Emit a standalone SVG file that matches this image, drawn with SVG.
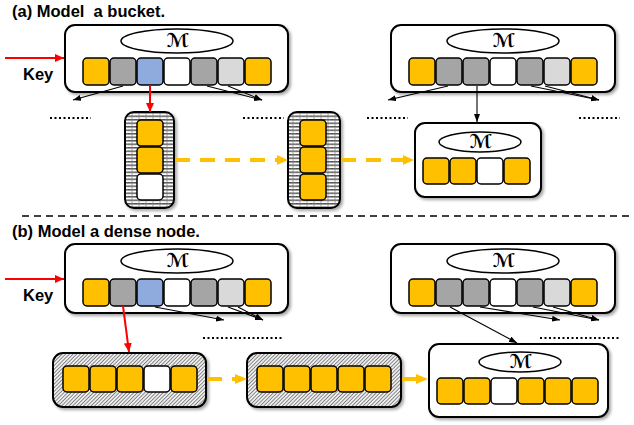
<svg xmlns="http://www.w3.org/2000/svg" width="634" height="425" viewBox="0 0 634 425">
<defs>
<style>
.t{font-family:"Liberation Sans",Arial,sans-serif;font-weight:bold;font-size:16.5px;fill:#000}
.m{font-family:"DejaVu Sans","Noto Sans",sans-serif;font-weight:bold;font-size:19px;fill:#000}
.n{fill:#fff;stroke:#000;stroke-width:2}
.c{stroke:#000;stroke-width:1.5}
.o{fill:#FFC000}.g{fill:#A5A5A5}.b{fill:#8FAADC}.w{fill:#fff}.l{fill:#D9D9D9}
.e{fill:#fff;stroke:#000;stroke-width:1.5}
.k{stroke:#000;stroke-width:1.1;fill:none}
.r{stroke:#FF0000;stroke-width:2;fill:none}
.y{stroke:#FFC000;stroke-width:4;fill:none}
.d{stroke:#000;stroke-width:2;stroke-dasharray:2 2.5;fill:none}
</style>
<filter id="sh" x="-10%" y="-10%" width="130%" height="130%">
<feDropShadow dx="2" dy="2" stdDeviation="1.5" flood-color="#000" flood-opacity="0.35"/>
</filter>
<pattern id="hz" width="7" height="3.5" patternUnits="userSpaceOnUse">
<rect width="7" height="3.5" fill="#fff"/>
<line x1="0" y1="0.8" x2="7" y2="0.8" stroke="#222" stroke-width="1.1"/>
<line x1="3" y1="0" x2="3" y2="0.8" stroke="#222" stroke-width="0.8"/>
<line x1="6" y1="1.5" x2="6" y2="3.5" stroke="#777" stroke-width="0.6"/>
</pattern>
<pattern id="dg" width="2.6" height="3" patternUnits="userSpaceOnUse" patternTransform="rotate(45)">
<rect width="2.6" height="3" fill="#eeeeee"/>
<line x1="0" y1="0" x2="0" y2="3" stroke="#3a3a3a" stroke-width="1.1"/>
</pattern>
<marker id="ak" markerWidth="8" markerHeight="6" refX="8" refY="3" orient="auto" markerUnits="userSpaceOnUse">
<path d="M0,0 L8,3 L0,6 z" fill="#000"/>
</marker>
<marker id="ar" markerWidth="9" markerHeight="8" refX="9" refY="4" orient="auto" markerUnits="userSpaceOnUse">
<path d="M0,0 L9,4 L0,8 z" fill="#FF0000"/>
</marker>
</defs>

<text class="t" x="12" y="17" xml:space="preserve">(a) Model  a bucket.</text>
<text class="t" x="12" y="237">(b) Model a dense node.</text>
<text class="t" x="23" y="80">Key</text>
<text class="t" x="23" y="301">Key</text>
<line x1="22" y1="216" x2="632" y2="216" stroke="#000" stroke-width="1.5" stroke-dasharray="7 5"/>

<g id="a-root">
<rect class="n" x="65" y="25" width="223" height="67" rx="10" filter="url(#sh)"/>
<ellipse class="e" cx="177" cy="41" rx="56" ry="12"/>
<text class="m" x="178" y="47" text-anchor="middle">ℳ</text>
<rect class="c o" x="83" y="58" width="26" height="27" rx="4"/>
<rect class="c g" x="110" y="58" width="26" height="27" rx="4"/>
<rect class="c b" x="137" y="58" width="26" height="27" rx="4"/>
<rect class="c w" x="164" y="58" width="26" height="27" rx="4"/>
<rect class="c g" x="191" y="58" width="26" height="27" rx="4"/>
<rect class="c l" x="218" y="58" width="26" height="27" rx="4"/>
<rect class="c o" x="245" y="58" width="26" height="27" rx="4"/>
</g>

<g id="a-right">
<rect class="n" x="391" y="25" width="224" height="67" rx="10" filter="url(#sh)"/>
<ellipse class="e" cx="503" cy="41" rx="56" ry="12"/>
<text class="m" x="504" y="47" text-anchor="middle">ℳ</text>
<rect class="c o" x="409" y="58" width="26" height="27" rx="4"/>
<rect class="c g" x="436" y="58" width="26" height="27" rx="4"/>
<rect class="c g" x="463" y="58" width="26" height="27" rx="4"/>
<rect class="c w" x="490" y="58" width="26" height="27" rx="4"/>
<rect class="c g" x="517" y="58" width="26" height="27" rx="4"/>
<rect class="c l" x="544" y="58" width="26" height="27" rx="4"/>
<rect class="c o" x="571" y="58" width="26" height="27" rx="4"/>
</g>

<g id="a-small">
<rect class="n" x="415" y="123" width="126" height="74" rx="10" filter="url(#sh)"/>
<ellipse class="e" cx="480" cy="142" rx="41" ry="10"/>
<text class="m" x="481" y="148" text-anchor="middle">ℳ</text>
<rect class="c o" x="423" y="158" width="26" height="26" rx="4"/>
<rect class="c o" x="450" y="158" width="26" height="26" rx="4"/>
<rect class="c w" x="477" y="158" width="26" height="26" rx="4"/>
<rect class="c o" x="504" y="158" width="26" height="26" rx="4"/>
</g>

<g id="a-bucket1">
<rect x="125" y="112" width="49" height="96" rx="9" fill="url(#hz)" stroke="#000" stroke-width="2" filter="url(#sh)"/>
<rect class="c o" x="137" y="120" width="26" height="26" rx="4"/>
<rect class="c o" x="137" y="147" width="26" height="26" rx="4"/>
<rect class="c w" x="137" y="174" width="26" height="26" rx="4"/>
</g>

<g id="a-bucket2">
<rect x="288" y="112" width="52" height="96" rx="9" fill="url(#hz)" stroke="#000" stroke-width="2" filter="url(#sh)"/>
<rect class="c o" x="300" y="120" width="26" height="26" rx="4"/>
<rect class="c o" x="300" y="147" width="26" height="26" rx="4"/>
<rect class="c o" x="300" y="174" width="26" height="26" rx="4"/>
</g>

<g id="b-root">
<rect class="n" x="65" y="244" width="223" height="69" rx="10" filter="url(#sh)"/>
<ellipse class="e" cx="177" cy="261" rx="56" ry="12"/>
<text class="m" x="178" y="267" text-anchor="middle">ℳ</text>
<rect class="c o" x="83" y="279" width="26" height="27" rx="4"/>
<rect class="c g" x="110" y="279" width="26" height="27" rx="4"/>
<rect class="c b" x="137" y="279" width="26" height="27" rx="4"/>
<rect class="c w" x="164" y="279" width="26" height="27" rx="4"/>
<rect class="c g" x="191" y="279" width="26" height="27" rx="4"/>
<rect class="c l" x="218" y="279" width="26" height="27" rx="4"/>
<rect class="c o" x="245" y="279" width="26" height="27" rx="4"/>
</g>

<g id="b-right">
<rect class="n" x="391" y="244" width="224" height="69" rx="10" filter="url(#sh)"/>
<ellipse class="e" cx="503" cy="261" rx="56" ry="12"/>
<text class="m" x="504" y="267" text-anchor="middle">ℳ</text>
<rect class="c o" x="409" y="279" width="26" height="27" rx="4"/>
<rect class="c g" x="436" y="279" width="26" height="27" rx="4"/>
<rect class="c g" x="463" y="279" width="26" height="27" rx="4"/>
<rect class="c w" x="490" y="279" width="26" height="27" rx="4"/>
<rect class="c g" x="517" y="279" width="26" height="27" rx="4"/>
<rect class="c l" x="544" y="279" width="26" height="27" rx="4"/>
<rect class="c o" x="571" y="279" width="26" height="27" rx="4"/>
</g>

<g id="b-dense1">
<rect x="53" y="353" width="153" height="54" rx="10" fill="url(#dg)" stroke="#000" stroke-width="2" filter="url(#sh)"/>
<rect class="c o" x="63" y="366" width="26" height="26" rx="4"/>
<rect class="c o" x="90" y="366" width="26" height="26" rx="4"/>
<rect class="c o" x="117" y="366" width="26" height="26" rx="4"/>
<rect class="c w" x="144" y="366" width="26" height="26" rx="4"/>
<rect class="c o" x="171" y="366" width="26" height="26" rx="4"/>
</g>

<g id="b-dense2">
<rect x="247" y="353" width="154" height="54" rx="10" fill="url(#dg)" stroke="#000" stroke-width="2" filter="url(#sh)"/>
<rect class="c o" x="257" y="366" width="26" height="26" rx="4"/>
<rect class="c o" x="284" y="366" width="26" height="26" rx="4"/>
<rect class="c o" x="311" y="366" width="26" height="26" rx="4"/>
<rect class="c o" x="338" y="366" width="26" height="26" rx="4"/>
<rect class="c o" x="365" y="366" width="26" height="26" rx="4"/>
</g>

<g id="b-small">
<rect class="n" x="429" y="344" width="179" height="73" rx="10" filter="url(#sh)"/>
<ellipse class="e" cx="520" cy="362" rx="41" ry="10"/>
<text class="m" x="521" y="368" text-anchor="middle">ℳ</text>
<rect class="c o" x="437" y="378" width="26" height="26" rx="4"/>
<rect class="c o" x="464" y="378" width="26" height="26" rx="4"/>
<rect class="c w" x="491" y="378" width="26" height="26" rx="4"/>
<rect class="c o" x="518" y="378" width="26" height="26" rx="4"/>
<rect class="c o" x="545" y="378" width="26" height="26" rx="4"/>
<rect class="c o" x="572" y="378" width="26" height="26" rx="4"/>
</g>

<g id="connectors">
<line class="r" x1="5" y1="58" x2="64" y2="58" marker-end="url(#ar)"/>
<line class="r" x1="150" y1="85" x2="150" y2="112" marker-end="url(#ar)"/>
<line class="k" x1="123" y1="86" x2="73" y2="100" marker-end="url(#ak)"/>
<line class="k" x1="207" y1="86" x2="262" y2="100" marker-end="url(#ak)"/>
<line class="k" x1="228" y1="86" x2="262" y2="100" marker-end="url(#ak)"/>
<line class="k" x1="448" y1="86" x2="388" y2="100" marker-end="url(#ak)"/>
<line class="k" x1="477" y1="86" x2="477" y2="122" marker-end="url(#ak)"/>
<line class="k" x1="531" y1="86" x2="599" y2="100" marker-end="url(#ak)"/>
<line class="k" x1="545" y1="86" x2="599" y2="100" marker-end="url(#ak)"/>
<line class="d" x1="50" y1="118" x2="91" y2="118"/>
<line class="d" x1="243" y1="118" x2="284" y2="118"/>
<line class="d" x1="367" y1="118" x2="408" y2="118"/>
<line class="d" x1="579" y1="118" x2="620" y2="118"/>
<line class="y" x1="175" y1="160" x2="277" y2="160" stroke-dasharray="15 10"/>
<path d="M277,155 L288,160 L277,165 z" fill="#FFC000"/>
<line class="y" x1="341" y1="160" x2="403" y2="160" stroke-dasharray="15 10"/>
<path d="M403,155 L414,160 L403,165 z" fill="#FFC000"/>

<line class="r" x1="5" y1="279" x2="64" y2="279" marker-end="url(#ar)"/>
<line class="r" x1="123" y1="306" x2="129" y2="352" marker-end="url(#ar)"/>
<line class="k" x1="155" y1="307" x2="224" y2="320" marker-end="url(#ak)"/>
<line class="k" x1="228" y1="307" x2="263" y2="320" marker-end="url(#ak)"/>
<line class="k" x1="238" y1="307" x2="263" y2="320" marker-end="url(#ak)"/>
<line class="k" x1="450" y1="307" x2="517" y2="343" marker-end="url(#ak)"/>
<line class="k" x1="480" y1="307" x2="560" y2="320" marker-end="url(#ak)"/>
<line class="k" x1="533" y1="307" x2="599" y2="320" marker-end="url(#ak)"/>
<line class="k" x1="553" y1="307" x2="599" y2="320" marker-end="url(#ak)"/>
<line class="d" x1="203" y1="338" x2="284" y2="338"/>
<line class="d" x1="540" y1="338" x2="620" y2="338"/>
<line class="y" x1="207" y1="379" x2="222" y2="379"/>
<line class="y" x1="232" y1="379" x2="236" y2="379"/>
<path d="M235,374 L247,379 L235,384 z" fill="#FFC000"/>
<line class="y" x1="402" y1="379" x2="417" y2="379"/>
<path d="M416,374 L428,379 L416,384 z" fill="#FFC000"/>
</g>
</svg>
